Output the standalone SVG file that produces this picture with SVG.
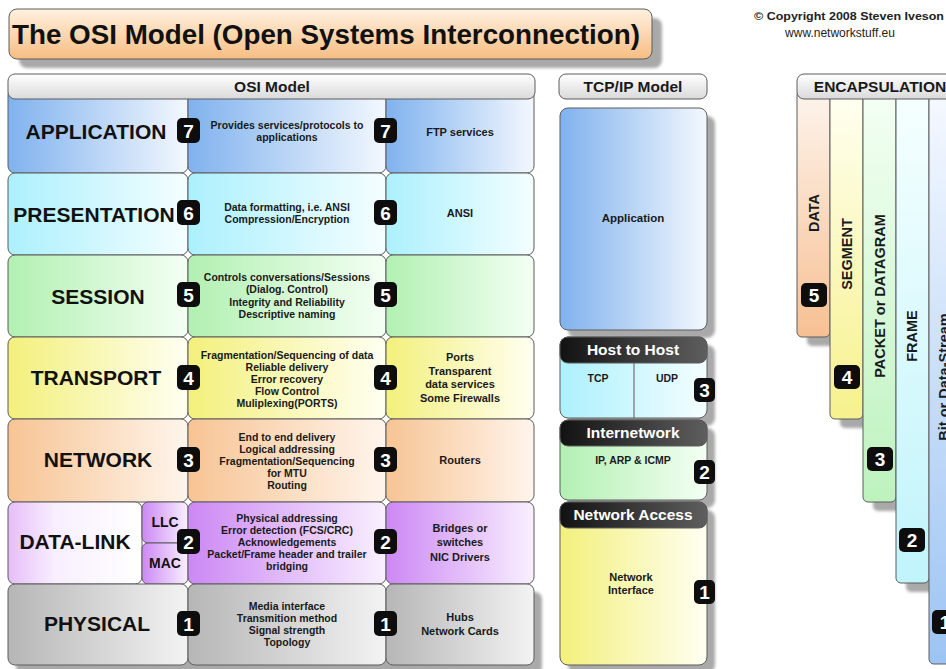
<svg xmlns="http://www.w3.org/2000/svg" width="946" height="669" viewBox="0 0 946 669">
  <defs>
    <!-- horizontal layer fills: saturated at left, fading to white at right -->
    <linearGradient id="gApp" x1="0" y1="0" x2="1" y2="0"><stop offset="0" stop-color="#80b2ee"/><stop offset="1" stop-color="#f3f8fe"/></linearGradient>
    <linearGradient id="gPres" x1="0" y1="0" x2="1" y2="0"><stop offset="0" stop-color="#acf0fd"/><stop offset="1" stop-color="#f4feff"/></linearGradient>
    <linearGradient id="gSes" x1="0" y1="0" x2="1" y2="0"><stop offset="0" stop-color="#b2f0b2"/><stop offset="1" stop-color="#f4fff4"/></linearGradient>
    <linearGradient id="gTra" x1="0" y1="0" x2="1" y2="0"><stop offset="0" stop-color="#f3f07c"/><stop offset="1" stop-color="#fffff2"/></linearGradient>
    <linearGradient id="gNet" x1="0" y1="0" x2="1" y2="0"><stop offset="0" stop-color="#f7c494"/><stop offset="1" stop-color="#fff5ec"/></linearGradient>
    <linearGradient id="gDl" x1="0" y1="0" x2="1" y2="0"><stop offset="0" stop-color="#cc88f4"/><stop offset="1" stop-color="#f9f0ff"/></linearGradient>
    <linearGradient id="gDlL" x1="0" y1="0" x2="1" y2="0"><stop offset="0" stop-color="#e6bdf8"/><stop offset="0.35" stop-color="#f8efff"/><stop offset="1" stop-color="#ffffff"/></linearGradient>
    <linearGradient id="gPhy" x1="0" y1="0" x2="1" y2="0"><stop offset="0" stop-color="#b6b6b6"/><stop offset="1" stop-color="#f3f3f3"/></linearGradient>
    <linearGradient id="gDark" x1="0" y1="0" x2="1" y2="0"><stop offset="0" stop-color="#121212"/><stop offset="1" stop-color="#5e5e5e"/></linearGradient>
    <!-- header and title fills -->
    <linearGradient id="gHead" x1="0" y1="0" x2="0" y2="1"><stop offset="0" stop-color="#ffffff"/><stop offset="1" stop-color="#dadada"/></linearGradient>
    <linearGradient id="gTitle" x1="0" y1="0" x2="0" y2="1"><stop offset="0" stop-color="#fff1e0"/><stop offset="1" stop-color="#f7bd82"/></linearGradient>
    <!-- vertical encapsulation strips -->
    <linearGradient id="vData" x1="0" y1="0" x2="0" y2="1"><stop offset="0" stop-color="#fdf4ec"/><stop offset="1" stop-color="#f7c093"/></linearGradient>
    <linearGradient id="vSeg" x1="0" y1="0" x2="0" y2="1"><stop offset="0" stop-color="#fffff2"/><stop offset="1" stop-color="#f6f18c"/></linearGradient>
    <linearGradient id="vPkt" x1="0" y1="0" x2="0" y2="1"><stop offset="0" stop-color="#f4fff4"/><stop offset="1" stop-color="#bdf2be"/></linearGradient>
    <linearGradient id="vFrm" x1="0" y1="0" x2="0" y2="1"><stop offset="0" stop-color="#f6ffff"/><stop offset="1" stop-color="#c0f4fb"/></linearGradient>
    <linearGradient id="vBit" x1="0" y1="0" x2="0" y2="1"><stop offset="0" stop-color="#f6f9ff"/><stop offset="1" stop-color="#9cc4f3"/></linearGradient>
    <filter id="soft" x="-20%" y="-20%" width="140%" height="140%"><feGaussianBlur stdDeviation="1.5"/></filter>
  </defs>
  <style>
    text { font-family: "Liberation Sans", Arial, sans-serif; }
    .cell { stroke: #5c5c5c; stroke-width: 1; }
    .lbl { font-size: 21px; font-weight: bold; fill: #111; text-anchor: middle; }
    .sub { font-size: 14px; font-weight: bold; fill: #111; text-anchor: middle; }
    .d { font-size: 10.5px; font-weight: bold; fill: #1a1a1a; text-anchor: middle; }
    .e { font-size: 11px; font-weight: bold; fill: #1a1a1a; text-anchor: middle; }
    .bx { fill: #0d0d0d; }
    .bn { font-size: 19px; font-weight: bold; fill: #fff; text-anchor: middle; }
    .hd { font-size: 15.5px; font-weight: bold; fill: #1a1a1a; text-anchor: middle; }
    .wh { font-size: 15.5px; font-weight: bold; fill: #fff; text-anchor: middle; }
    .vt { font-size: 14.5px; font-weight: bold; fill: #1a1a1a; text-anchor: middle; }
    .shadow { fill: #a9a9a9; filter: url(#soft); }
  </style>

  <rect width="946" height="669" fill="#ffffff"/>

  <!-- title -->
  <g id="title">
    <rect class="shadow" x="19" y="18" width="643" height="50" rx="8"/>
    <rect class="cell" x="9" y="9" width="643" height="50" rx="8" fill="url(#gTitle)"/>
    <text x="12" y="44" font-size="28" font-weight="bold" fill="#111" textLength="628" lengthAdjust="spacingAndGlyphs">The OSI Model (Open Systems Interconnection)</text>
  </g>
  <g id="copyright">
    <text x="944" y="20" font-size="11" font-weight="bold" fill="#222" text-anchor="end" textLength="190" lengthAdjust="spacingAndGlyphs">© Copyright 2008 Steven Iveson</text>
    <text x="840" y="37" font-size="12" fill="#222" text-anchor="middle">www.networkstuff.eu</text>
  </g>

  <!-- OSI model table -->
  <g id="osi-shadow">
    <rect class="shadow" x="16" y="592" width="526" height="82" rx="7"/>
  </g>

  <g id="layer7">
    <rect class="cell" x="8" y="88" width="180" height="85" rx="7" fill="url(#gApp)"/>
    <rect class="cell" x="188" y="88" width="198" height="85" rx="7" fill="url(#gApp)"/>
    <rect class="cell" x="386" y="88" width="148" height="85" rx="7" fill="url(#gApp)"/>
    <text class="lbl" x="96" y="139">APPLICATION</text>
    <text class="d" x="287" y="129">Provides services/protocols to</text>
    <text class="d" x="287" y="141">applications</text>
    <text class="e" x="460" y="136">FTP services</text>
    <rect class="bx" x="177" y="118" width="23" height="25" rx="5"/><text class="bn" x="188.5" y="137.5">7</text>
    <rect class="bx" x="374" y="118" width="23" height="25" rx="5"/><text class="bn" x="385.5" y="137.5">7</text>
  </g>

  <g id="layer6">
    <rect class="cell" x="8" y="173" width="180" height="82" rx="7" fill="url(#gPres)"/>
    <rect class="cell" x="188" y="173" width="198" height="82" rx="7" fill="url(#gPres)"/>
    <rect class="cell" x="386" y="173" width="148" height="82" rx="7" fill="url(#gPres)"/>
    <text class="lbl" x="94" y="222">PRESENTATION</text>
    <text class="d" x="287" y="211">Data formatting, i.e. ANSI</text>
    <text class="d" x="287" y="223">Compression/Encryption</text>
    <text class="e" x="460" y="217">ANSI</text>
    <rect class="bx" x="177" y="200" width="23" height="25" rx="5"/><text class="bn" x="188.5" y="219.5">6</text>
    <rect class="bx" x="374" y="200" width="23" height="25" rx="5"/><text class="bn" x="385.5" y="219.5">6</text>
  </g>

  <g id="layer5">
    <rect class="cell" x="8" y="255" width="180" height="82" rx="7" fill="url(#gSes)"/>
    <rect class="cell" x="188" y="255" width="198" height="82" rx="7" fill="url(#gSes)"/>
    <rect class="cell" x="386" y="255" width="148" height="82" rx="7" fill="url(#gSes)"/>
    <text class="lbl" x="98" y="304">SESSION</text>
    <text class="d" x="287" y="281">Controls conversations/Sessions</text>
    <text class="d" x="287" y="293">(Dialog. Control)</text>
    <text class="d" x="287" y="306">Integrity and Reliability</text>
    <text class="d" x="287" y="318">Descriptive naming</text>
    <rect class="bx" x="177" y="282" width="23" height="25" rx="5"/><text class="bn" x="188.5" y="301.5">5</text>
    <rect class="bx" x="374" y="282" width="23" height="25" rx="5"/><text class="bn" x="385.5" y="301.5">5</text>
  </g>

  <g id="layer4">
    <rect class="cell" x="8" y="337" width="180" height="82" rx="7" fill="url(#gTra)"/>
    <rect class="cell" x="188" y="337" width="198" height="82" rx="7" fill="url(#gTra)"/>
    <rect class="cell" x="386" y="337" width="148" height="82" rx="7" fill="url(#gTra)"/>
    <text class="lbl" x="96" y="385">TRANSPORT</text>
    <text class="d" x="287" y="359">Fragmentation/Sequencing of data</text>
    <text class="d" x="287" y="371">Reliable delivery</text>
    <text class="d" x="287" y="383">Error recovery</text>
    <text class="d" x="287" y="395">Flow Control</text>
    <text class="d" x="287" y="407">Muliplexing(PORTS)</text>
    <text class="e" x="460" y="361">Ports</text>
    <text class="e" x="460" y="375">Transparent</text>
    <text class="e" x="460" y="388">data services</text>
    <text class="e" x="460" y="402">Some Firewalls</text>
    <rect class="bx" x="177" y="365" width="23" height="25" rx="5"/><text class="bn" x="188.5" y="384.5">4</text>
    <rect class="bx" x="374" y="365" width="23" height="25" rx="5"/><text class="bn" x="385.5" y="384.5">4</text>
  </g>

  <g id="layer3">
    <rect class="cell" x="8" y="419" width="180" height="83" rx="7" fill="url(#gNet)"/>
    <rect class="cell" x="188" y="419" width="198" height="83" rx="7" fill="url(#gNet)"/>
    <rect class="cell" x="386" y="419" width="148" height="83" rx="7" fill="url(#gNet)"/>
    <text class="lbl" x="98" y="467">NETWORK</text>
    <text class="d" x="287" y="441">End to end delivery</text>
    <text class="d" x="287" y="453">Logical addressing</text>
    <text class="d" x="287" y="465">Fragmentation/Sequencing</text>
    <text class="d" x="287" y="477">for MTU</text>
    <text class="d" x="287" y="489">Routing</text>
    <text class="e" x="460" y="464">Routers</text>
    <rect class="bx" x="177" y="447" width="23" height="25" rx="5"/><text class="bn" x="188.5" y="466.5">3</text>
    <rect class="bx" x="374" y="447" width="23" height="25" rx="5"/><text class="bn" x="385.5" y="466.5">3</text>
  </g>

  <g id="layer2">
    <rect class="cell" x="8" y="502" width="134" height="82" rx="7" fill="url(#gDlL)"/>
    <rect class="cell" x="142" y="502" width="46" height="41" rx="6" fill="url(#gDl)"/>
    <rect class="cell" x="142" y="543" width="46" height="41" rx="6" fill="url(#gDl)"/>
    <rect class="cell" x="188" y="502" width="198" height="82" rx="7" fill="url(#gDl)"/>
    <rect class="cell" x="386" y="502" width="148" height="82" rx="7" fill="url(#gDl)"/>
    <text class="lbl" x="75" y="549">DATA-LINK</text>
    <text class="sub" x="165" y="527">LLC</text>
    <text class="sub" x="165" y="568">MAC</text>
    <text class="d" x="287" y="522">Physical addressing</text>
    <text class="d" x="287" y="534">Error detection (FCS/CRC)</text>
    <text class="d" x="287" y="546">Acknowledgements</text>
    <text class="d" x="287" y="558">Packet/Frame header and trailer</text>
    <text class="d" x="287" y="570">bridging</text>
    <text class="e" x="460" y="532">Bridges or</text>
    <text class="e" x="460" y="546">switches</text>
    <text class="e" x="460" y="561">NIC Drivers</text>
    <rect class="bx" x="177" y="529" width="23" height="25" rx="5"/><text class="bn" x="188.5" y="548.5">2</text>
    <rect class="bx" x="374" y="529" width="23" height="25" rx="5"/><text class="bn" x="385.5" y="548.5">2</text>
  </g>

  <g id="layer1">
    <rect class="cell" x="8" y="584" width="180" height="81" rx="7" fill="url(#gPhy)"/>
    <rect class="cell" x="188" y="584" width="198" height="81" rx="7" fill="url(#gPhy)"/>
    <rect class="cell" x="386" y="584" width="148" height="81" rx="7" fill="url(#gPhy)"/>
    <text class="lbl" x="97" y="631">PHYSICAL</text>
    <text class="d" x="287" y="610">Media interface</text>
    <text class="d" x="287" y="622">Transmition method</text>
    <text class="d" x="287" y="634">Signal strength</text>
    <text class="d" x="287" y="646">Topology</text>
    <text class="e" x="460" y="621">Hubs</text>
    <text class="e" x="460" y="635">Network Cards</text>
    <rect class="bx" x="177" y="611" width="23" height="25" rx="5"/><text class="bn" x="188.5" y="630.5">1</text>
    <rect class="bx" x="374" y="611" width="23" height="25" rx="5"/><text class="bn" x="385.5" y="630.5">1</text>
  </g>

  <g id="osi-header">
    <rect class="cell" x="8" y="74" width="527" height="25" rx="7" fill="url(#gHead)"/>
    <text class="hd" x="272" y="92">OSI Model</text>
  </g>

  <!-- TCP/IP model column -->
  <g id="tcpip-header">
    <rect class="cell" x="559" y="74" width="148" height="25" rx="7" fill="url(#gHead)"/>
    <text class="hd" x="633" y="92">TCP/IP Model</text>
  </g>

  <g id="tcp-application">
    <rect class="shadow" x="568" y="116" width="147" height="222" rx="8"/>
    <rect class="cell" x="560" y="108" width="147" height="222" rx="8" fill="url(#gApp)"/>
    <text x="633" y="222" font-size="11.5" font-weight="bold" fill="#1a1a1a" text-anchor="middle">Application</text>
  </g>

  <g id="tcp-host">
    <rect class="shadow" x="568" y="345" width="147" height="81" rx="8"/>
    <rect class="cell" x="560" y="337" width="147" height="81" rx="8" fill="url(#gPres)"/>
    <line x1="634" y1="363" x2="634" y2="418" stroke="#5c5c5c" stroke-width="1"/>
    <rect class="cell" x="560" y="337" width="147" height="26" rx="8" fill="url(#gDark)"/>
    <text class="wh" x="633" y="355">Host to Host</text>
    <text class="d" x="598" y="382">TCP</text>
    <text class="d" x="667" y="382">UDP</text>
    <rect class="bx" x="694" y="378" width="21" height="24" rx="5"/><text class="bn" x="704.5" y="397">3</text>
  </g>

  <g id="tcp-internet">
    <rect class="shadow" x="568" y="428" width="147" height="80" rx="8"/>
    <rect class="cell" x="560" y="420" width="147" height="80" rx="8" fill="url(#gSes)"/>
    <rect class="cell" x="560" y="420" width="147" height="26" rx="8" fill="url(#gDark)"/>
    <text class="wh" x="633" y="438">Internetwork</text>
    <text class="d" x="633" y="464">IP, ARP &amp; ICMP</text>
    <rect class="bx" x="694" y="460" width="21" height="24" rx="5"/><text class="bn" x="704.5" y="479">2</text>
  </g>

  <g id="tcp-access">
    <rect class="shadow" x="568" y="510" width="147" height="163" rx="8"/>
    <rect class="cell" x="560" y="502" width="147" height="163" rx="8" fill="url(#gTra)"/>
    <rect class="cell" x="560" y="502" width="147" height="26" rx="8" fill="url(#gDark)"/>
    <text class="wh" x="633" y="520" font-size="16">Network Access</text>
    <text class="e" x="631" y="581">Network</text>
    <text class="e" x="631" y="594">Interface</text>
    <rect class="bx" x="694" y="580" width="21" height="24" rx="5"/><text class="bn" x="704.5" y="599">1</text>
  </g>

  <!-- encapsulation strips -->
  <g id="enc-data">
    <rect class="shadow" x="807" y="98" width="33" height="248" rx="5"/>
    <rect class="cell" x="797" y="90" width="33" height="247" rx="5" fill="url(#vData)"/>
    <text class="vt" transform="translate(819,213) rotate(-90)">DATA</text>
    <rect class="bx" x="801" y="283" width="26" height="24" rx="5"/><text class="bn" x="814" y="302">5</text>
  </g>
  <g id="enc-segment">
    <rect class="shadow" x="840" y="98" width="33" height="330" rx="5"/>
    <rect class="cell" x="830" y="90" width="33" height="329" rx="5" fill="url(#vSeg)"/>
    <text class="vt" transform="translate(852,254) rotate(-90)">SEGMENT</text>
    <rect class="bx" x="834" y="365" width="26" height="24" rx="5"/><text class="bn" x="847" y="384">4</text>
  </g>
  <g id="enc-packet">
    <rect class="shadow" x="873" y="98" width="33" height="413" rx="5"/>
    <rect class="cell" x="863" y="90" width="33" height="412" rx="5" fill="url(#vPkt)"/>
    <text class="vt" transform="translate(885,296) rotate(-90)">PACKET or DATAGRAM</text>
    <rect class="bx" x="867" y="447" width="26" height="24" rx="5"/><text class="bn" x="880" y="466">3</text>
  </g>
  <g id="enc-frame">
    <rect class="shadow" x="906" y="98" width="33" height="494" rx="5"/>
    <rect class="cell" x="896" y="90" width="33" height="493" rx="5" fill="url(#vFrm)"/>
    <text class="vt" transform="translate(917,336) rotate(-90)">FRAME</text>
    <rect class="bx" x="899" y="528" width="26" height="24" rx="5"/><text class="bn" x="912" y="547">2</text>
  </g>
  <g id="enc-bits">
    <rect class="cell" x="929" y="90" width="40" height="574" rx="5" fill="url(#vBit)"/>
    <text class="vt" font-size="15.5" transform="translate(949,377) rotate(-90)">Bit or Data-Stream</text>
    <rect class="bx" x="932" y="610" width="26" height="24" rx="5"/><text class="bn" x="945" y="629">1</text>
  </g>
  <g id="enc-header">
    <rect class="cell" x="797" y="74" width="170" height="25" rx="7" fill="url(#gHead)"/>
    <text class="hd" x="880" y="92" font-size="14.5">ENCAPSULATION</text>
  </g>
</svg>
